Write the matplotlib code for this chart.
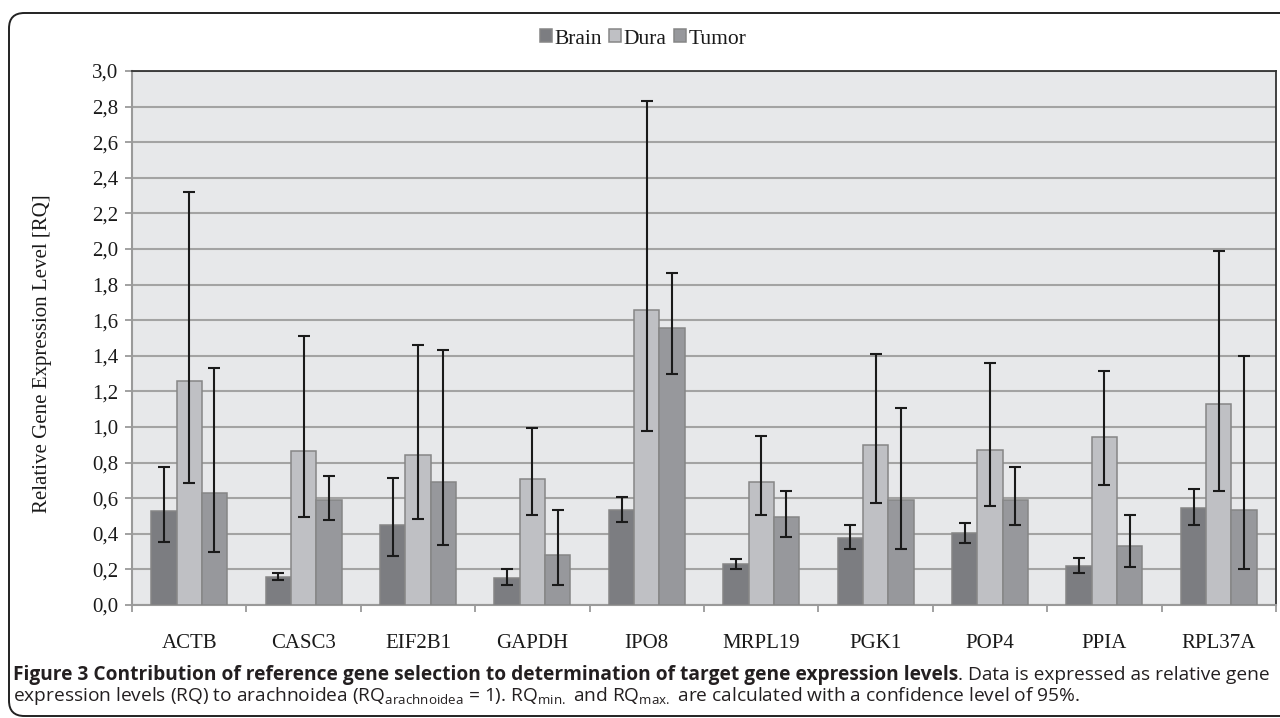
import matplotlib
matplotlib.use("Agg")
import matplotlib.pyplot as plt
import numpy as np
from matplotlib.patches import FancyBboxPatch

genes = ["ACTB", "CASC3", "EIF2B1", "GAPDH", "IPO8", "MRPL19", "PGK1", "POP4", "PPIA", "RPL37A"]
series = ["Brain", "Dura", "Tumor"]

brain = [0.527, 0.157, 0.447, 0.150, 0.536, 0.228, 0.378, 0.404, 0.219, 0.544]
brain_lo = [0.353, 0.140, 0.275, 0.110, 0.469, 0.200, 0.314, 0.351, 0.181, 0.452]
brain_hi = [0.776, 0.181, 0.712, 0.200, 0.609, 0.256, 0.449, 0.458, 0.262, 0.654]

dura = [1.260, 0.864, 0.841, 0.710, 1.660, 0.690, 0.899, 0.869, 0.942, 1.131]
dura_lo = [0.686, 0.493, 0.484, 0.505, 0.975, 0.505, 0.574, 0.555, 0.675, 0.641]
dura_hi = [2.320, 1.510, 1.460, 0.994, 2.830, 0.948, 1.410, 1.359, 1.314, 1.990]

tumor = [0.632, 0.591, 0.693, 0.280, 1.555, 0.493, 0.591, 0.591, 0.331, 0.531]
tumor_lo = [0.299, 0.475, 0.335, 0.114, 1.295, 0.383, 0.312, 0.447, 0.215, 0.200]
tumor_hi = [1.333, 0.725, 1.430, 0.536, 1.865, 0.639, 1.107, 0.778, 0.507, 1.400]

yticks = [0.0, 0.2, 0.4, 0.6, 0.8, 1.0, 1.2, 1.4, 1.6, 1.8, 2.0, 2.2, 2.4, 2.6, 2.8, 3.0]
ylabel = "Relative Gene Expression Level [RQ]"

colors = ["#7c7d81", "#bfc0c4", "#97989c"]
edge = "#868686"

W, H = 1280, 718
fig = plt.figure(figsize=(W / 100, H / 100), dpi=100)
fig.patch.set_facecolor("white")

# outer rounded frame
box = FancyBboxPatch((9 / W, 2 / H), 1300 / W, (H - 13 - 2) / H,
                     boxstyle="round,pad=0,rounding_size=0.012",
                     transform=fig.transFigure, fill=False,
                     edgecolor="#222222", linewidth=1.4, mutation_aspect=W / H)
fig.add_artist(box)

L, R, T, B = 132, 1276, 71, 605
ax = fig.add_axes([L / W, (H - B) / H, (R - L) / W, (B - T) / H])
ax.set_facecolor("#e7e8ea")

serif = ["Liberation Serif", "DejaVu Serif"]
x = np.arange(len(genes))
bw = 0.221
data = [(brain, brain_lo, brain_hi), (dura, dura_lo, dura_hi), (tumor, tumor_lo, tumor_hi)]
handles = []
for i, (vals, lo, hi) in enumerate(data):
    vals = np.array(vals); lo = np.array(lo); hi = np.array(hi)
    pos = x + (i - 1) * bw
    b = ax.bar(pos, vals, width=bw, color=colors[i], edgecolor=edge, linewidth=1.1,
               zorder=3, label=series[i])
    handles.append(b)
    ax.errorbar(pos, vals, yerr=[vals - lo, hi - vals], fmt="none", ecolor="#1a1a1a",
                elinewidth=1.5, capsize=4.5, capthick=1.5, zorder=4)

ax.set_xlim(-0.5, len(genes) - 0.5)
ax.set_ylim(0, 3.0)
ax.set_yticks(yticks)
ax.set_yticklabels([f"{v:.1f}".replace(".", ",") for v in yticks], fontfamily=serif, fontsize=15,
                   color="#1a1a1a")
ax.yaxis.grid(True, color="#a3a3a3", linewidth=1.5, zorder=1)
ax.set_axisbelow(True)

ax.set_xticks(np.arange(len(genes) + 1) - 0.5)
ax.set_xticklabels([])
ax.set_xticks(x, minor=True)
ax.set_xticklabels(genes, minor=True, fontfamily=serif, fontsize=15, color="#1a1a1a")
ax.tick_params(axis="x", which="major", length=5, color="#9a9a9a", width=1.3, direction="out")
ax.tick_params(axis="x", which="minor", length=0, pad=21)
ax.tick_params(axis="y", length=5, color="#9a9a9a", width=1.3, pad=5)

for s in ["left", "bottom"]:
    ax.spines[s].set_color("#9a9a9a")
    ax.spines[s].set_linewidth(1.5)
for s in ["top", "right"]:
    ax.spines[s].set_color("#333333")
    ax.spines[s].set_linewidth(1.3)

ax.set_ylabel(ylabel, fontfamily=serif, fontsize=15, color="#1a1a1a")
ax.yaxis.set_label_coords((52 - L) / (R - L), (B - 354) / (B - T))

leg = fig.legend(handles=handles, labels=series, loc="center", bbox_to_anchor=(643 / W, (H - 39) / H),
                 ncol=3, frameon=False, prop={"family": serif, "size": 15.5},
                 handlelength=0.55, handleheight=0.55, handletextpad=0.12, columnspacing=0.35)
for t in leg.get_texts():
    t.set_color("#1a1a1a")

# caption
cap_font = ["Open Sans", "DejaVu Sans"]
fs = 12.0
y1 = (H - 675) / H
y2 = (H - 696) / H
bold_txt = "Figure 3 Contribution of reference gene selection to determination of target gene expression levels"
reg_txt = ". Data is expressed as relative gene"
t1 = fig.text(13 / W, y1, bold_txt, fontfamily=cap_font, fontweight="bold", fontsize=fs,
              va="center", ha="left", color="#231f20")
t2 = fig.text(0.5, y1, reg_txt, fontfamily=cap_font, fontsize=fs, va="center", ha="left", color="#231f20")
fig.canvas.draw()
r = fig.canvas.get_renderer()
w_total = t1.get_window_extent(renderer=r).width + t2.get_window_extent(renderer=r).width
fs2 = fs * (1268 - 13) / w_total
t1.set_fontsize(fs2)
t2.set_fontsize(fs2)
fig.canvas.draw()
bb = t1.get_window_extent(renderer=r)
t2.set_x(bb.x1 / W)
fig.text(13 / W, y2,
         r"expression levels (RQ) to arachnoidea (RQ$_\mathregular{arachnoidea}$ = 1). RQ$_\mathregular{min.}$ and RQ$_\mathregular{max.}$ are calculated with a confidence level of 95%.",
         fontfamily=cap_font, fontsize=fs2, va="center", ha="left", color="#231f20")

fig.savefig("out.png", dpi=100)
